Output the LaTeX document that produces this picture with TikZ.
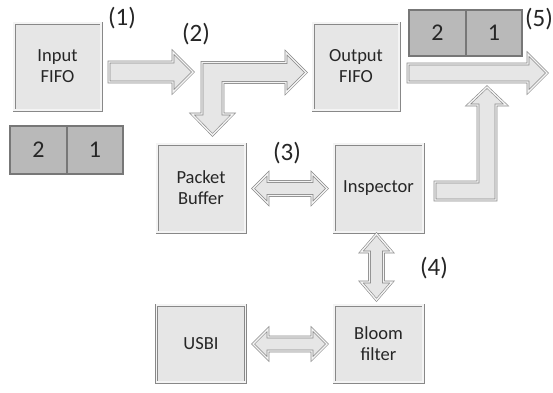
\documentclass[tikz,border=0pt]{standalone}
\usepackage{fontspec}
\setmainfont{Carlito}
\definecolor{boxfill}{HTML}{E6E6E6}
\definecolor{boxline}{HTML}{888888}
\definecolor{bevel}{HTML}{F4F4F4}
\definecolor{qfill}{HTML}{B9B9B9}
\definecolor{qline}{HTML}{777777}
\definecolor{txt}{HTML}{262626}
\tikzset{
  blk/.style={draw=boxline, fill=boxfill, double=bevel, double distance=1.6pt, line width=0.7pt,
    inner sep=0pt, align=center, text=txt, font=\fontsize{18.5}{21}\selectfont},
  qcell/.style={draw=qline, fill=qfill, line width=1.2pt, inner sep=0pt, text=txt,
    font=\fontsize{24}{26}\selectfont},
  lbl/.style={inner sep=0pt, text=txt, font=\fontsize{25}{27}\selectfont},
  barrow/.style={draw=boxline, fill=boxfill, double=bevel, double distance=1.4pt, line width=0.6pt, line join=miter}
}
\begin{document}
\begin{tikzpicture}[x=1pt,y=-1pt]
\useasboundingbox (0,0) rectangle (553,392);
\fill[white] (0,0) rectangle (553,392);
% boxes
\node[blk, minimum width=87pt, minimum height=87pt] (in) at (57.5,66.5) {Input\\FIFO};
\node[blk, minimum width=86pt, minimum height=87pt] (out) at (356,66.5) {Output\\FIFO};
\node[blk, minimum width=88pt, minimum height=88pt] (pb) at (201,188) {Packet\\Buffer};
\node[blk, minimum width=89pt, minimum height=88pt] (insp) at (378.5,188) {Inspector};
\node[blk, minimum width=89pt, minimum height=77pt] (usbi) at (201,343.5) {USBI};
\node[blk, minimum width=89pt, minimum height=77pt] (bloom) at (378.5,343.5) {Bloom\\filter};
% queues
\node[qcell, minimum width=57pt, minimum height=48pt] (q1a) at (38.5,150) {2};
\node[qcell, minimum width=56pt, minimum height=48pt] (q1b) at (95,150) {1};
\node[qcell, minimum width=57pt, minimum height=46pt] (q2a) at (437.5,33) {2};
\node[qcell, minimum width=56pt, minimum height=46pt] (q2b) at (494,33) {1};
% labels
\node[lbl] (l1) at (122,18) {(1)};
\node[lbl] (l2) at (196,34) {(2)};
\node[lbl] (l3) at (287,153) {(3)};
\node[lbl] (l4) at (434,268) {(4)};
\node[lbl] (l5) at (539,19) {(5)};
% arrow 1: Input FIFO -> elbow
\draw[barrow] (109,62) -- (173,62) -- (173,52) -- (193,72) -- (173,92) -- (173,82) -- (109,82) -- cycle;
% elbow arrow (2)
\draw[barrow] (202,62.5) -- (286,62.5) -- (286,52.5) -- (306,72.5) -- (286,92.5) -- (286,82.5) -- (223,82.5)
  -- (223,114) -- (233,114) -- (212.5,135) -- (192,114) -- (202,114) -- cycle;
% output arrow
\draw[barrow] (408,64) -- (528,64) -- (528,54) -- (547,73) -- (528,92) -- (528,82) -- (408,82) -- cycle;
% elbow from inspector up
\draw[barrow] (435,182) -- (478,182) -- (478,105) -- (468,105) -- (487,87) -- (506,105) -- (496,105)
  -- (496,200) -- (435,200) -- cycle;
% double arrow (3)
\draw[barrow] (253,188.5) -- (268,173.5) -- (268,181.5) -- (312,181.5) -- (312,173.5) -- (327,188.5)
  -- (312,203.5) -- (312,195.5) -- (268,195.5) -- (268,203.5) -- cycle;
% double arrow USBI-Bloom
\draw[barrow] (253,344) -- (268,329) -- (268,337) -- (312,337) -- (312,329) -- (327,344)
  -- (312,359) -- (312,351) -- (268,351) -- (268,359) -- cycle;
% vertical double arrow (4)
\draw[barrow] (376.5,234) -- (392,252) -- (383.5,252) -- (383.5,282) -- (392,282) -- (376.5,300)
  -- (361,282) -- (369.5,282) -- (369.5,252) -- (361,252) -- cycle;
\end{tikzpicture}
\end{document}
